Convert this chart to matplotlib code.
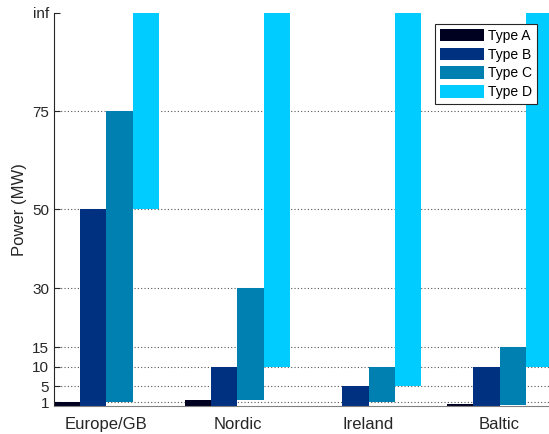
import numpy as np
import matplotlib.pyplot as plt

plt.rcParams['font.family'] = ['Liberation Sans', 'DejaVu Sans']

regions = ["Europe/GB", "Nordic", "Ireland", "Baltic"]
types = ["Type A", "Type B", "Type C", "Type D"]
colors = ["#000020", "#003080", "#0080b0", "#00ccff"]

# lower and upper bounds (MW) per type, per region; 100 stands for "inf"
lower = {
    "Type A": [0, 0, 0, 0],
    "Type B": [0, 0, 0, 0],
    "Type C": [1, 1.5, 1, 0.3],
    "Type D": [50, 10, 5, 10],
}
upper = {
    "Type A": [1, 1.5, 0.1, 0.4],
    "Type B": [50, 10, 5, 10],
    "Type C": [75, 30, 10, 15],
    "Type D": [100, 100, 100, 100],
}

yticks = [1, 5, 10, 15, 30, 50, 75, 100]
ytick_labels = ["1", "5", "10", "15", "30", "50", "75", "inf"]

fig = plt.figure(figsize=(5.49, 4.34), dpi=100)
ax = fig.add_axes([0.0984, 0.0645, 0.907, 0.906])

x = np.arange(1, len(regions) + 1)
w = 0.2
for i, t in enumerate(types):
    lo = np.array(lower[t])
    hi = np.array(upper[t])
    ax.bar(x + (i - 1.5) * w, hi - lo, bottom=lo, width=w, color=colors[i],
           label=t, zorder=2, linewidth=0)

for v in yticks[:-1]:
    ax.axhline(v, color="#555555", linestyle=(0, (1, 2)), linewidth=0.8, zorder=1)

ax.set_xlim(0.6, 4.4)
ax.set_ylim(0, 100)
ax.set_xticks(x)
ax.set_xticklabels(regions, fontsize=12)
ax.set_yticks(yticks)
ax.set_yticklabels(ytick_labels, fontsize=11)
ax.tick_params(axis="x", length=0, pad=8, colors="#262626")
ax.tick_params(axis="y", direction="in", length=4, colors="#262626")
ax.set_ylabel("Power (MW)", fontsize=12, color="#262626")

ax.spines["top"].set_visible(False)
ax.spines["right"].set_visible(False)
ax.spines["left"].set_color("#262626")
ax.spines["bottom"].set_color("#808080")

leg = ax.legend(loc="upper right", bbox_to_anchor=(0.97, 0.972), fontsize=10,
                fancybox=False, framealpha=1, edgecolor="#262626",
                handlelength=3.2, handleheight=1.0, borderpad=0.35,
                labelspacing=0.35, handletextpad=0.3, borderaxespad=0)
leg.get_frame().set_linewidth(0.8)

fig.savefig("out.png", dpi=100)
